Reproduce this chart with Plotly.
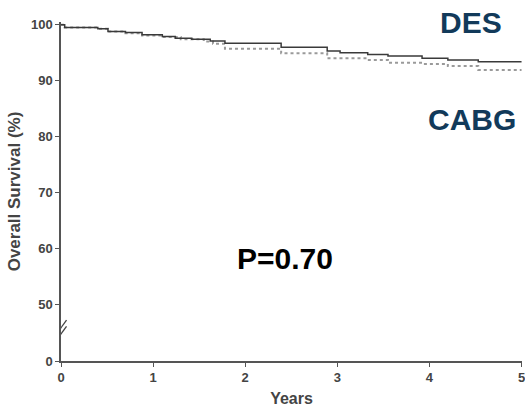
import plotly.graph_objects as go

# Kaplan-Meier step data (years, overall survival %)
des_t = [0, 0.04, 0.40, 0.51, 0.70, 0.88, 1.10, 1.24, 1.42, 1.62, 1.78, 2.39, 2.89, 3.03, 3.33, 3.55, 3.92, 4.20, 4.53, 5.0]
des_v = [100, 99.5, 99.3, 98.8, 98.6, 98.2, 97.9, 97.6, 97.4, 97.1, 96.7, 96.0, 95.3, 95.0, 94.7, 94.4, 94.0, 93.7, 93.4, 93.4]

cabg_t = [0, 0.04, 0.40, 0.51, 0.70, 0.88, 1.10, 1.30, 1.55, 1.65, 1.78, 2.39, 2.89, 3.33, 3.55, 3.92, 4.20, 4.53, 5.0]
cabg_v = [100, 99.5, 99.3, 98.8, 98.5, 98.1, 97.8, 97.4, 97.0, 96.6, 95.7, 94.9, 94.0, 93.7, 93.2, 93.0, 92.6, 91.9, 91.9]

# Axis ticks (broken y axis: "0" drawn just below 50)
zero_pos = 39.8
y_tickvals = [zero_pos, 50, 60, 70, 80, 90, 100]
y_ticktext = ["0", "50", "60", "70", "80", "90", "100"]
x_tickvals = [0, 1, 2, 3, 4, 5]

FONT = "Liberation Sans, Arial, sans-serif"
AXIS_COLOR = "#555555"
NAVY = "#123a5a"

W, H = 525, 409
ML, MR, MT, MB = 61, 3, 22, 48
PW, PH = W - ML - MR, H - MT - MB

fig = go.Figure()
fig.add_trace(go.Scatter(x=cabg_t, y=cabg_v, mode="lines", line_shape="hv",
                         line=dict(color="#9a9a9a", width=2, dash="dot"), name="CABG"))
fig.add_trace(go.Scatter(x=des_t, y=des_v, mode="lines", line_shape="hv",
                         line=dict(color="#3a3a3a", width=1.5), name="DES"))

# axis break marks
brk_y = 44.8
fig.add_shape(type="path", xref="x", yref="y",
              path=f"M -0.06 {brk_y-1.5} L 0.06 {brk_y+1.2} L 0.06 {brk_y+2.3} L -0.06 {brk_y-0.4} Z",
              fillcolor="white", line=dict(width=0), layer="above")
for off in (-1.5, -0.4):
    fig.add_shape(type="line", xref="x", yref="y",
                  x0=-0.06, y0=brk_y + off, x1=0.06, y1=brk_y + off + 2.7,
                  line=dict(color="#444444", width=1.3), layer="above")

ann = [
    dict(text="<b>DES</b>", px=471, py=22, color=NAVY),
    dict(text="<b>CABG</b>", px=472, py=120, color=NAVY),
    dict(text="<b>P=0.70</b>", px=285, py=258, color="#000000"),
]
for a in ann:
    fig.add_annotation(x=(a["px"] - ML) / PW, y=(H - MB - a["py"]) / PH, xref="paper", yref="paper",
                       text=a["text"], showarrow=False, xanchor="center", yanchor="middle",
                       font=dict(family=FONT, size=30, color=a["color"]))

fig.update_layout(
    width=W, height=H,
    margin=dict(l=ML, r=MR, t=MT, b=MB, autoexpand=False),
    paper_bgcolor="white", plot_bgcolor="white",
    showlegend=False,
    font=dict(family=FONT),
    xaxis=dict(range=[0, 5.005], tickvals=x_tickvals, ticks="outside", ticklen=4,
               tickcolor=AXIS_COLOR, showline=True, linecolor=AXIS_COLOR, linewidth=1.5,
               showgrid=False, zeroline=False, ticklabeloverflow="allow", automargin=False,
               tickfont=dict(family=FONT, size=13, color="#444444", weight="bold"),
               title=dict(text="<b>Years</b>", font=dict(family=FONT, size=16, color="#444444"), standoff=8)),
    yaxis=dict(range=[zero_pos, 100.5], tickvals=y_tickvals, ticktext=y_ticktext,
               ticks="outside", ticklen=4, tickcolor=AXIS_COLOR,
               showline=True, linecolor=AXIS_COLOR, linewidth=1.5,
               showgrid=False, zeroline=False, automargin=False,
               tickfont=dict(family=FONT, size=13, color="#444444", weight="bold"),
               title=dict(text="<b>Overall Survival (%)</b>", font=dict(family=FONT, size=17, color="#444444"), standoff=6)),
)

fig.write_html("out.html")
